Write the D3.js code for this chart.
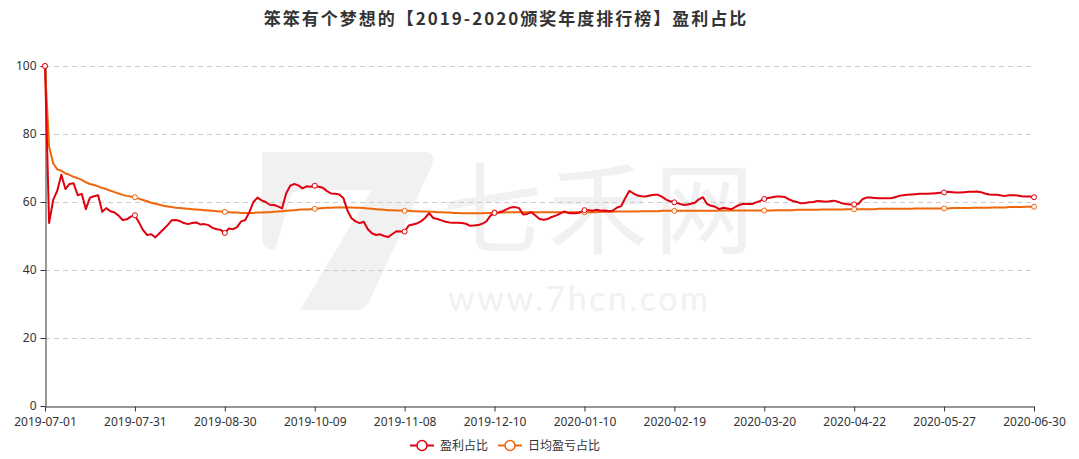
<!DOCTYPE html>
<html>
<head>
<meta charset="utf-8">
<script src="https://cdn.jsdelivr.net/npm/d3@7"></script>
<style>
html,body{margin:0;padding:0;background:#fff;}
svg{display:block;font-family:"Microsoft YaHei","Noto Sans CJK SC","Noto Sans",sans-serif;}
</style>
</head>
<body>
<svg id="chart" width="1079" height="459"></svg>
<script>
const title = "笨笨有个梦想的【2019-2020颁奖年度排行榜】盈利占比";
const seriesNames = ["盈利占比", "日均盈亏占比"];
const seriesColors = ["#e0000f", "#f0660d"];
const startDate = "2019-07-01";
const endDate = "2020-06-30";
const holidays = ["2019-09-13","2019-10-01","2019-10-02","2019-10-03","2019-10-04","2019-10-07",
  "2020-01-01","2020-01-24","2020-01-27","2020-01-28","2020-01-29","2020-01-30","2020-01-31",
  "2020-04-06","2020-05-01","2020-05-04","2020-05-05","2020-06-25","2020-06-26"];
const tickLabels = ["2019-07-01","2019-07-31","2019-08-30","2019-10-09","2019-11-08","2019-12-10",
  "2020-01-10","2020-02-19","2020-03-20","2020-04-22","2020-05-27","2020-06-30"];
const yTicks = [0, 20, 40, 60, 80, 100];

const profitRatio = [
100,53.8,60.6,63.3,68.0,63.8,65.3,65.5,62.0,62.4,57.9,61.3,61.7,62.0,57.1,58.2,57.3,56.9,56.0,54.7,
54.9,55.7,56.1,54.0,51.7,50.3,50.5,49.6,50.8,52.0,53.2,54.6,54.7,54.4,53.8,53.5,53.8,54.0,53.4,53.5,
53.2,52.4,52.0,51.8,50.9,52.2,52.0,52.6,54.3,54.7,57.0,60.0,61.3,60.5,60.0,59.2,59.1,58.7,58.1,62.5,
64.8,65.3,64.9,64.0,64.6,64.5,64.8,64.5,64.2,63.2,62.5,62.4,62.2,61.2,57.5,55.2,54.3,53.8,54.2,52.0,
50.8,50.3,50.5,50.0,49.7,50.6,51.4,51.3,51.3,53.1,53.4,53.7,54.3,55.3,56.7,55.3,55.0,54.6,54.2,54.0,
53.9,53.9,53.8,53.6,53.0,53.1,53.2,53.6,54.3,56.0,56.8,56.9,57.3,57.9,58.4,58.5,58.2,56.3,56.5,57.0,
56.0,55.0,54.8,55.0,55.6,56.0,56.6,57.2,56.8,56.7,56.7,57.0,57.6,57.6,57.4,57.7,57.4,57.5,57.3,57.5,
58.4,58.8,61.2,63.3,62.5,61.9,61.7,61.6,61.9,62.1,62.1,61.5,60.7,60.2,59.9,59.6,59.2,59.2,59.5,59.8,
60.8,61.4,59.4,58.9,58.6,57.9,58.3,58.1,57.9,58.6,59.2,59.5,59.4,59.4,59.9,60.3,60.9,61.2,61.4,61.6,
61.6,61.5,60.8,60.3,60.0,59.6,59.7,59.9,60.0,60.3,60.2,60.1,60.2,60.4,60.1,59.6,59.4,59.3,59.3,59.4,
60.8,61.3,61.3,61.2,61.1,61.1,61.1,61.1,61.4,61.8,62.0,62.1,62.2,62.3,62.4,62.4,62.4,62.5,62.6,62.7,
62.8,63.0,62.9,62.8,62.8,62.9,63.0,63.0,63.1,62.9,62.5,62.2,62.1,62.1,61.9,61.8,62.0,62.0,61.9,61.7,
61.6,61.6,61.4
];
const dailyRatio = [
100,76.3,71.4,69.6,69.2,68.4,68.0,67.4,67.0,66.5,65.8,65.3,65.0,64.6,64.1,63.8,63.3,62.9,62.5,62.1,
61.8,61.6,61.4,61.0,60.6,60.2,59.8,59.5,59.2,58.9,58.7,58.5,58.3,58.2,58.1,58.0,57.9,57.8,57.7,57.6,
57.5,57.4,57.3,57.2,57.1,57.0,56.9,56.9,56.8,56.8,56.8,56.8,56.9,56.9,57.0,57.0,57.1,57.2,57.3,57.4,
57.5,57.6,57.7,57.8,57.8,57.9,58.0,58.1,58.2,58.3,58.3,58.4,58.4,58.4,58.4,58.4,58.3,58.3,58.2,58.1,
58.0,57.9,57.8,57.7,57.6,57.6,57.5,57.5,57.4,57.4,57.3,57.3,57.2,57.2,57.1,57.1,57.0,57.0,56.9,56.9,
56.8,56.8,56.7,56.7,56.7,56.7,56.7,56.7,56.8,56.8,56.9,56.9,56.9,57.0,57.0,57.0,57.0,57.0,57.0,57.0,
57.0,57.0,57.0,57.0,57.0,57.0,57.0,57.0,57.0,57.0,57.0,57.0,57.0,57.0,57.0,57.0,57.1,57.1,57.1,57.1,
57.2,57.2,57.2,57.2,57.2,57.2,57.3,57.3,57.3,57.3,57.3,57.4,57.4,57.4,57.4,57.4,57.4,57.4,57.4,57.4,
57.4,57.4,57.4,57.4,57.4,57.5,57.5,57.5,57.5,57.5,57.5,57.5,57.5,57.5,57.5,57.5,57.5,57.5,57.5,57.6,
57.6,57.6,57.6,57.6,57.7,57.7,57.7,57.7,57.7,57.7,57.8,57.8,57.8,57.8,57.8,57.8,57.9,57.9,57.9,57.9,
57.9,57.9,57.9,57.9,58.0,58.0,58.0,58.0,58.0,58.0,58.0,58.0,58.0,58.1,58.1,58.1,58.1,58.1,58.1,58.1,
58.1,58.1,58.2,58.2,58.2,58.2,58.2,58.3,58.3,58.3,58.3,58.3,58.4,58.4,58.4,58.4,58.5,58.5,58.5,58.5,
58.6,58.6,58.6
];

// trading-day categories
const fmt = d3.timeFormat("%Y-%m-%d");
const holidaySet = new Set(holidays);
const dates = d3.timeDays(new Date(startDate + "T00:00:00"), d3.timeDay.offset(new Date(endDate + "T00:00:00"), 1))
  .filter(d => d.getDay() !== 0 && d.getDay() !== 6)
  .map(fmt)
  .filter(s => !holidaySet.has(s));

const svg = d3.select("#chart");
const W = 1079, H = 459;
const margin = {left: 45, right: 45, top: 66, bottom: 53};

const x = d3.scalePoint().domain(dates).range([margin.left, W - margin.right]);
const y = d3.scaleLinear().domain([0, 100]).range([H - margin.bottom, margin.top]);

// watermark
const wm = svg.append("g").attr("fill", "#f1f1f1");
wm.append("path").attr("d", "M262,152 L425,152 Q436,152 432,165 L370,300 Q366,310 354,310 L300,310 L372,190 L300,190 Q292,190 290,198 L275,250 Q262,250 262,238 Z");
wm.append("text").attr("x", 442).attr("y", 246).attr("font-size", 100).attr("font-family", "Noto Sans CJK SC").attr("letter-spacing", 6).text("七禾网");
wm.append("text").attr("x", 448).attr("y", 311).attr("font-size", 34).attr("font-family", "Lato, Noto Sans").attr("letter-spacing", 2.5).text("www.7hcn.com");

// grid
svg.append("g").selectAll("line").data(yTicks.filter(t => t > 0)).join("line")
  .attr("x1", margin.left).attr("x2", W - margin.right)
  .attr("y1", d => y(d) + 0.5).attr("y2", d => y(d) + 0.5)
  .attr("stroke", "#cccccc").attr("stroke-dasharray", "5,4").attr("stroke-width", 1);

// y axis
const yAxis = svg.append("g").attr("transform", `translate(${margin.left + 0.5},0)`)
  .call(d3.axisLeft(y).tickValues(yTicks).tickSize(5).tickSizeOuter(0).tickPadding(4));
yAxis.select(".domain").attr("stroke", "#333");
yAxis.selectAll(".tick line").attr("stroke", "#333");
yAxis.selectAll("text").attr("font-size", 12).attr("fill", "#333").attr("font-family", "Noto Sans, sans-serif");

// x axis
const xAxis = svg.append("g").attr("transform", `translate(0,${y(0) + 0.5})`)
  .call(d3.axisBottom(x).tickValues(tickLabels).tickSize(5).tickSizeOuter(0).tickPadding(6));
xAxis.select(".domain").attr("stroke", "#333");
xAxis.selectAll(".tick line").attr("stroke", "#333");
xAxis.selectAll("text").attr("font-size", 12).attr("fill", "#333").attr("font-family", "Noto Sans, sans-serif");

// lines
const series = [profitRatio, dailyRatio];
const line = d3.line().x((d, i) => x(dates[i])).y(d => y(d));
[1, 0].forEach(k => {
  svg.append("path").datum(series[k]).attr("d", line)
    .attr("fill", "none").attr("stroke", seriesColors[k]).attr("stroke-width", 2)
    .attr("stroke-linejoin", "round");
});
const tickSet = new Set(tickLabels);
[1, 0].forEach(k => {
  svg.append("g").selectAll("circle")
    .data(series[k].map((v, i) => ({v, d: dates[i]})).filter(p => tickSet.has(p.d)))
    .join("circle")
    .attr("cx", p => x(p.d)).attr("cy", p => y(p.v)).attr("r", 2.5)
    .attr("fill", "#fff").attr("stroke", seriesColors[k]).attr("stroke-width", 1);
});

// title
svg.append("text").attr("x", 506).attr("y", 25).attr("text-anchor", "middle")
  .attr("font-size", 17).attr("letter-spacing", 2).attr("font-weight", "bold").attr("fill", "#333").text(title);

// legend
const legendItems = [{x: 410, tx: 440}, {x: 498, tx: 528}];
legendItems.forEach((L, k) => {
  const g = svg.append("g");
  g.append("line").attr("x1", L.x).attr("x2", L.x + 24).attr("y1", 445.5).attr("y2", 445.5)
    .attr("stroke", seriesColors[k]).attr("stroke-width", 2);
  g.append("circle").attr("cx", L.x + 12).attr("cy", 445.5).attr("r", 5)
    .attr("fill", "#fff").attr("stroke", seriesColors[k]).attr("stroke-width", 1.5);
  g.append("text").attr("x", L.tx).attr("y", 450).attr("font-size", 12).attr("fill", "#333")
    .text(seriesNames[k]);
});
</script>
</body>
</html>
